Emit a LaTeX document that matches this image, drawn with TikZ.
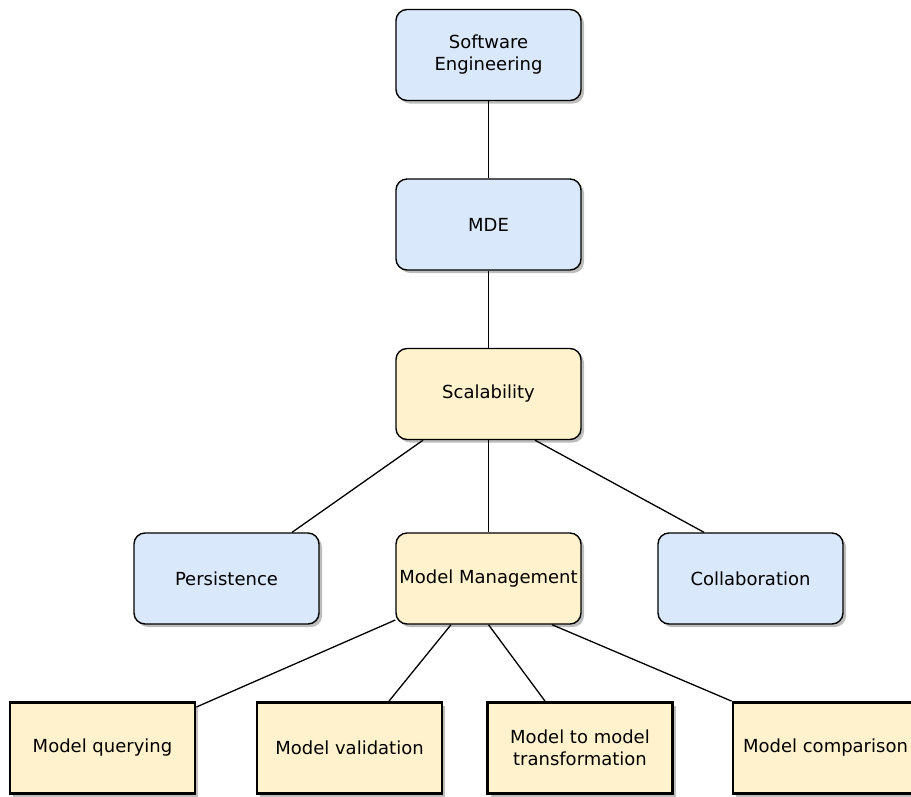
\documentclass[tikz,border=0pt]{standalone}
\usepackage{fontspec}
\setmainfont{DejaVu Sans}
\usetikzlibrary{shadows}
\definecolor{topicblue}{HTML}{DAE8FC}
\definecolor{topicyellow}{HTML}{FFF2CC}
\definecolor{shadowgray}{HTML}{BDBDBD}
\begin{document}
\begin{tikzpicture}[x=1pt,y=-1pt,
  font=\fontsize{18}{22}\selectfont,
  box/.style={draw=black, align=center, minimum width=185pt, minimum height=91pt,
    inner sep=0pt, drop shadow={shadow xshift=3pt, shadow yshift=-3pt, fill=shadowgray, opacity=1}},
  roundbox/.style={box, rounded corners=11pt, line width=1.4pt},
  bluebox/.style={roundbox, fill=topicblue},
  yellowbox/.style={roundbox, fill=topicyellow},
  leafbox/.style={box, fill=topicyellow, line width=2.8pt},
  link/.style={draw=black, line width=1.3pt}]
\useasboundingbox (0,0) rectangle (911,796);
\clip (0,0) rectangle (911,796);

% main chain
\node[bluebox] (se) at (488.5,55) {Software\\Engineering};
\node[bluebox] (mde) at (488.5,224.5) {MDE};
\node[yellowbox] (scal) at (488.5,394) {Scalability};

% second level
\node[bluebox] (pers) at (226.5,578.5) {Persistence};
\node[yellowbox] (mm) at (488.5,578.5) {Model Management};
\node[bluebox] (collab) at (750.5,578.5) {Collaboration};

% model management tasks
\node[leafbox] (query) at (102.5,748) {Model querying};
\node[leafbox] (valid) at (349.5,748) {Model validation};
\node[leafbox] (m2m) at (580,748) {Model to model\\transformation};
\node[leafbox] (comp) at (825.5,748) {Model comparison};

% connectors
\path[link] (se) -- (mde);
\path[link] (mde) -- (scal);
\path[link] (scal) -- (pers);
\path[link] (scal) -- (mm);
\path[link] ([xshift=46.5pt]scal.south) -- ([xshift=-46.5pt]collab.north);
\path[link] ([yshift=-41.5pt]mm.west) -- ([yshift=41pt]query.east);
\path[link] ([xshift=-37.5pt]mm.south) -- ([xshift=39.5pt]valid.north);
\path[link] (mm.south) -- ([xshift=-35pt]m2m.north);
\path[link] ([xshift=63.5pt]mm.south) -- (comp.north west);
\end{tikzpicture}
\end{document}
